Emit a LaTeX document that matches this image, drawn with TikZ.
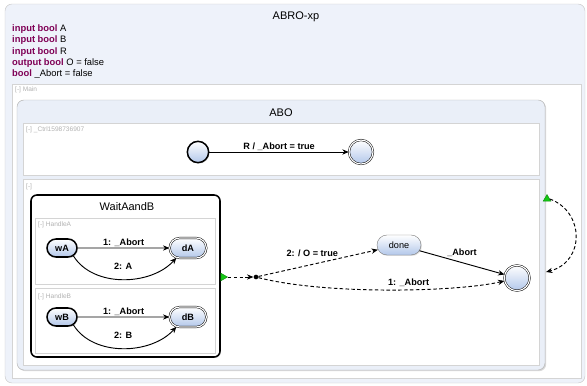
\documentclass[tikz,border=0pt]{standalone}
\usepackage{fontspec}
\setmainfont{Liberation Sans}
\usepackage{xcolor}
\usetikzlibrary{shapes,shadows,positioning,calc}
\usetikzlibrary{arrows.meta}
\definecolor{kwcol}{RGB}{127,0,85}
\definecolor{stfill}{RGB}{178,199,234}
\definecolor{regline}{RGB}{212,212,212}
\definecolor{boxbg}{RGB}{238,242,250}
\definecolor{abobg}{RGB}{234,239,248}
\definecolor{trig}{RGB}{20,200,20}
\newcommand{\kw}[1]{\textcolor{kwcol}{\textbf{#1}}}

\begin{document}
\begin{tikzpicture}[x=0.03cm,y=-0.03cm,>={Stealth[length=5.5pt,width=4.5pt]},
  region/.style={draw=regline,fill=white},
  reglbl/.style={anchor=west,inner sep=0,text=black!30,font=\fontsize{5.6}{6}\selectfont},
  decl/.style={anchor=west,inner sep=0,font=\fontsize{8}{9}\selectfont},
  title/.style={font=\fontsize{9.4}{10}\selectfont},
  lbl/.style={inner sep=1pt,font=\bfseries\fontsize{7.8}{9}\selectfont},
  st/.style={draw,top color=white,bottom color=stfill,
    drop shadow={shadow xshift=0.8pt,shadow yshift=-0.8pt,opacity=0.25}},
  pill/.style={st,rounded rectangle,inner sep=0,minimum width=0.9cm,minimum height=0.54cm,font=\bfseries\fontsize{7.8}{9}\selectfont},
  initst/.style={line width=1.3pt},
  finst/.style={double,double distance=1pt},
  tr/.style={->,line width=0.8pt},
  trd/.style={tr,dash pattern=on 3pt off 2pt},
  trigger/.style={isosceles triangle,isosceles triangle apex angle=60,draw=trig!70!black,fill=trig,inner sep=0,minimum size=0.2cm}]
\useasboundingbox (0,0) rectangle (587,385);

% outer box with declarations
\draw[draw=black!22,fill=boxbg,rounded corners=6pt] (5,4) rectangle (585,383);
\node[title] (abro) at (296,17) {ABRO-xp};
\node[decl] (d1) at (12,29) {\kw{input bool} A};
\node[decl] (d2) at (12,40.5) {\kw{input bool} B};
\node[decl] (d3) at (12,52) {\kw{input bool} R};
\node[decl] (d4) at (12,63) {\kw{output bool} O = false};
\node[decl] (d5) at (12,74) {\kw{bool} \_Abort = false};

% region Main
\draw[region] (12,84) rectangle (581,378);
\node[reglbl] (lmain) at (15,90) {[-] Main};

% state ABO
\draw[draw=black!30,fill=abobg,rounded corners=6pt,
  drop shadow={shadow xshift=1pt,shadow yshift=-1pt,opacity=0.3}] (17,100) rectangle (545,370);
\node[title] (abo) at (281,113) {ABO};

% control region
\draw[region] (23,123) rectangle (539,175);
\node[reglbl] (lctrl) at (26,130) {[-] \_Ctrl1598736907};
\node[st,circle,initst,minimum size=0.64cm] (ini) at (198,152) {};
\node[st,circle,finst,minimum size=0.72cm] (fin1) at (361,152) {};
\draw[tr] (ini) -- node[lbl,above=0pt] {R / \_Abort = true} (fin1);

% main region of ABO
\draw[region] (23,179) rectangle (539,365);
\node[reglbl] (lmid) at (26,187) {[-]};

% state WaitAandB
\draw[line width=1.3pt,fill=white,rounded corners=5pt,
  drop shadow={shadow xshift=0.8pt,shadow yshift=-0.8pt,opacity=0.3}] (31,195) rectangle (220,357);
\node[title] (wab) at (127,207) {WaitAandB};

% HandleA
\draw[region] (35,218) rectangle (215,284);
\node[reglbl] (lha) at (38,225) {[-] HandleA};
\node[pill,initst] (wA) at (62,248) {wA};
\node[pill,finst,minimum width=1.1cm,minimum height=0.6cm] (dA) at (188,248) {dA};
\draw[tr] (wA) -- node[lbl,above=0pt] {1: \_Abort} (dA);
\draw[tr] (wA.-35) .. controls +(20,32) and +(-25,28) .. node[lbl,above=7pt] {2: A} (dA.-140);

% HandleB
\draw[region] (35,288) rectangle (215,353);
\node[reglbl] (lhb) at (38,297) {[-] HandleB};
\node[pill,initst] (wB) at (62,317) {wB};
\node[pill,finst,minimum width=1.1cm,minimum height=0.6cm] (dB) at (188,317) {dB};
\draw[tr] (wB) -- node[lbl,above=0pt] {1: \_Abort} (dB);
\draw[tr] (wB.-35) .. controls +(20,32) and +(-25,28) .. node[lbl,above=7pt] {2: B} (dB.-140);

% termination
\node[trigger] (trigA) at (223,277) {};
\node[circle,fill,inner sep=0,minimum size=4pt] (dot) at (256,277) {};
\node[pill,draw=black!50,minimum width=1.32cm,minimum height=0.6cm,font=\fontsize{7.8}{9}\selectfont] (done) at (399,245) {done};
\node[st,circle,finst,minimum size=0.76cm] (fin2) at (517,278) {};
\draw[trd] (trigA) -- (dot);
\draw[trd] (dot) -- node[lbl,above=5pt,pos=0.45] {2: / O = true} (done);
\draw[trd] (dot) .. controls +(70,18) and +(-60,14) .. node[lbl,above=1pt,pos=0.57] {1: \_Abort} (fin2);
\draw[tr] (done) -- node[lbl,above=4pt,pos=0.5] {\_Abort} (fin2);

% loop of ABO
\node[trigger,shape border rotate=90] (trigB) at (547,199) {};
\coordinate (aboin) at (546,272);
\draw[trd] (trigB.east) .. controls (585,212) and (585,262) .. (aboin);
\end{tikzpicture}
\end{document}
